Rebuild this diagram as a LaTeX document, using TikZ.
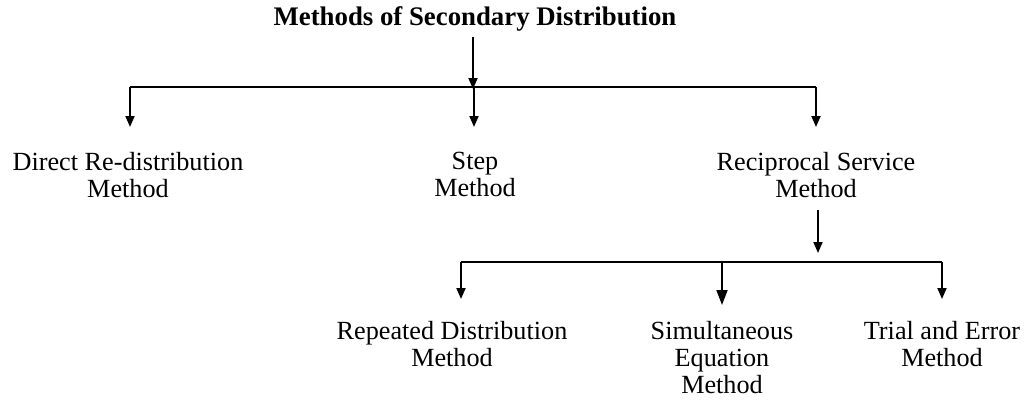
\documentclass[tikz,border=0pt]{standalone}
\usepackage{fontspec}
\setmainfont{Liberation Serif}
\usetikzlibrary{arrows.meta}
\begin{document}
\begin{tikzpicture}[x=0.5pt,y=-0.5pt,
  line/.style={line width=0.9pt},
  arr/.style={line, -{Triangle[length=5.5pt,width=4.5pt]}},
  bigarr/.style={line, -{Triangle[length=7.5pt,width=5.5pt]}},
  lbl/.style={font=\fontsize{13.1}{13.6}\selectfont, align=center, inner sep=0pt, anchor=north},
  ttl/.style={font=\fontsize{13.4}{14}\selectfont\bfseries, inner sep=0pt, anchor=base}]
\useasboundingbox (0,0) rectangle (1034,403);
\node[ttl] (title) at (475,25) {Methods of Secondary Distribution};
\coordinate (t0) at (473,37);
\coordinate (h0) at (473,89);
\coordinate (hl) at (130,87);
\coordinate (hr) at (816,87);
\coordinate (hm) at (474,87);
\coordinate (dl) at (130,127);
\coordinate (dm) at (474,127);
\coordinate (dr) at (816,127);
\node[lbl] (direct) at (128,152) {Direct Re-distribution\\Method};
\node[lbl] (step) at (475,152) {Step\\Method};
\node[lbl] (recip) at (816,152) {Reciprocal Service\\Method};
\draw[arr] (t0) -- (h0);
\draw[line] (hl) -- (hr);
\draw[arr] (hl) -- (dl);
\draw[arr] (hm) -- (dm);
\draw[arr] (hr) -- (dr);
% second level
\coordinate (r0) at (818,210);
\coordinate (r1) at (818,253);
\coordinate (gl) at (461,262);
\coordinate (gm) at (722,262);
\coordinate (gr) at (942,262);
\coordinate (el) at (461,299);
\coordinate (em) at (722,305);
\coordinate (er) at (942,299);
\node[lbl] (repeated) at (452,321) {Repeated Distribution\\Method};
\node[lbl] (simul) at (722,321) {Simultaneous\\Equation\\Method};
\node[lbl] (trial) at (942,321) {Trial and Error\\Method};
\draw[arr] (r0) -- (r1);
\draw[line] (gl) -- (gr);
\draw[arr] (gl) -- (el);
\draw[bigarr] (gm) -- (em);
\draw[arr] (gr) -- (er);
\end{tikzpicture}
\end{document}
